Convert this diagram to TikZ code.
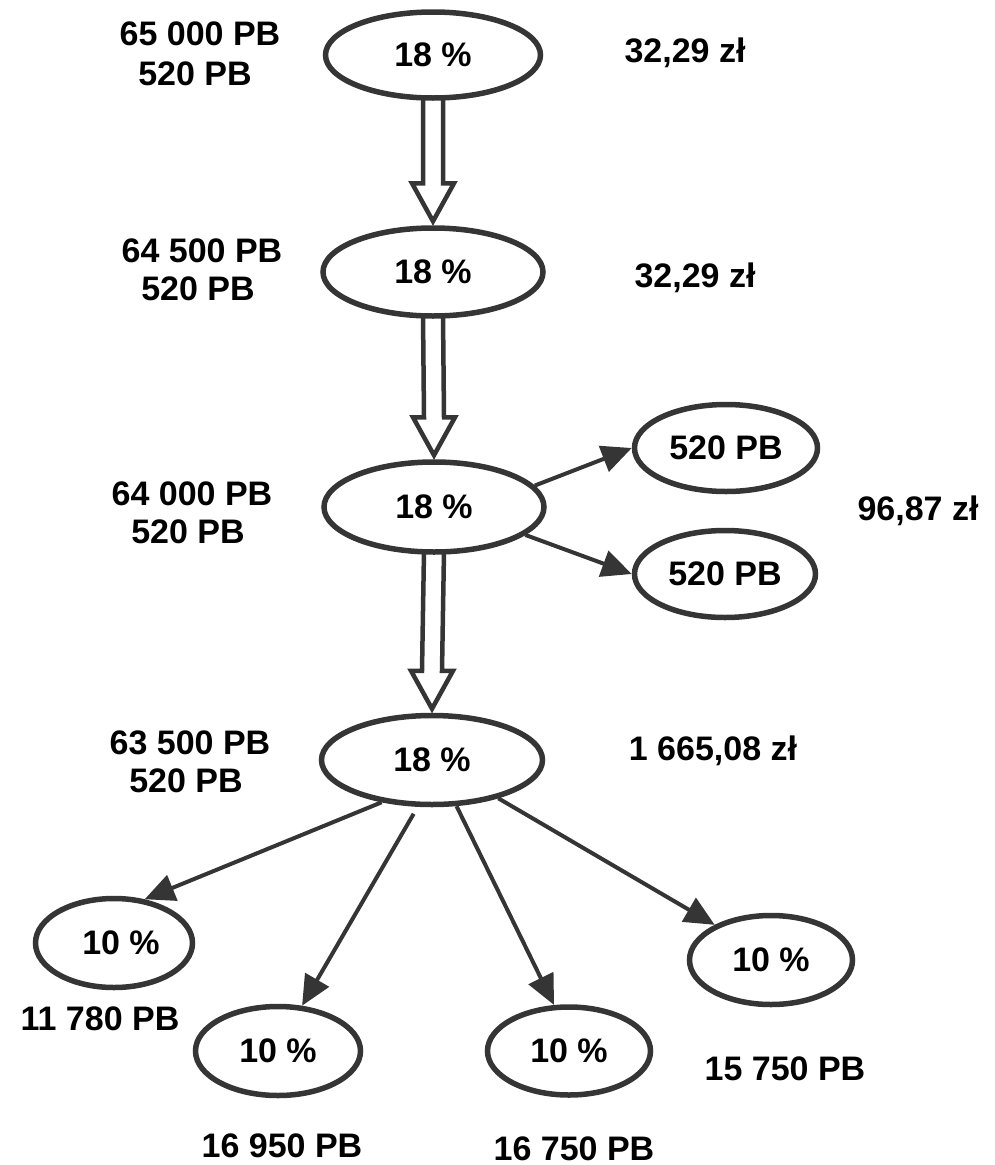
\documentclass[tikz,border=0pt]{standalone}
\usepackage{fontspec}
\setmainfont{Liberation Sans}
\usetikzlibrary{arrows.meta,calc,shapes.geometric}
\definecolor{ink}{HTML}{353535}
\begin{document}
\begin{tikzpicture}[x=1pt,y=-1pt,
  every node/.style={font=\fontsize{34}{40}\selectfont\bfseries, text=black},
  oval/.style={ellipse, draw=ink, line width=5.5pt, inner sep=0pt},
  lbl/.style={anchor=base, inner sep=0pt},
  arr/.style={draw=ink, line width=4pt, -{Triangle[length=30pt,width=27pt]}},
  hollow/.style={draw=ink, line width=4.5pt, line join=miter}]
\useasboundingbox (0,0) rectangle (994,1165);

% main chain
\node[oval, minimum width=215pt, minimum height=86pt] (e1) at (433,55) {18 \%};
\node[oval, minimum width=220pt, minimum height=88pt] (e2) at (433,272) {18 \%};
\node[oval, minimum width=220pt, minimum height=90pt] (e3) at (434,507) {18 \%};
\node[oval, minimum width=221pt, minimum height=89pt] (e4) at (432,760) {18 \%};

% right side
\node[oval, minimum width=183pt, minimum height=87pt] (r1) at (726,448) {520 PB};
\node[oval, minimum width=181pt, minimum height=87pt] (r2) at (725,574) {520 PB};

% bottom
\node[oval, minimum width=157pt, minimum height=89pt] (b1) at (114,943) {\hspace*{14pt}10 \%};
\node[oval, minimum width=165pt, minimum height=89pt] (b2) at (278,1051) {10 \%};
\node[oval, minimum width=163pt, minimum height=88pt] (b3) at (569,1051) {10 \%};
\node[oval, minimum width=163pt, minimum height=89pt] (b4) at (771,960) {10 \%};

% hollow arrows
\draw[hollow] ($(e1.south)+(-10,-4)$) -- ($(e2.north)+(-10,-42)$) -- ($(e2.north)+(-21,-42)$) -- ($(e2.north)+(0,-4)$) -- ($(e2.north)+(21,-42)$) -- ($(e2.north)+(10,-42)$) -- ($(e1.south)+(10,-4)$);
\draw[hollow] ($(e2.south)+(-10,-4)$) -- ($(e3.north)+(-10,-42)$) -- ($(e3.north)+(-21,-42)$) -- ($(e3.north)+(0,-4)$) -- ($(e3.north)+(21,-42)$) -- ($(e3.north)+(10,-42)$) -- ($(e2.south)+(10,-4)$);
\draw[hollow] ($(e3.south)+(-10,-4)$) -- ($(e4.north)+(-10,-42)$) -- ($(e4.north)+(-21,-42)$) -- ($(e4.north)+(0,-4)$) -- ($(e4.north)+(21,-42)$) -- ($(e4.north)+(10,-42)$) -- ($(e3.south)+(10,-4)$);

% arrows
\draw[arr] (e3.12) -- (r1.west);
\draw[arr] (e3.343) -- (r2.west);
\draw[arr] (e4.220) -- (b1.55);
\draw[arr, shorten <=8pt] (e4.253) -- (b2.62);
\draw[arr] (e4.298) -- (b3.108);
\draw[arr] (e4.330) -- (b4.148);

% labels
\node[lbl] (l1a) at (200,45) {65 000 PB};
\node[lbl] (l1b) at (195,85) {520 PB};
\node[lbl] (v1) at (685,62) {32,29 zł};

\node[lbl] (l2a) at (202,262) {64 500 PB};
\node[lbl] (l2b) at (198,300) {520 PB};
\node[lbl] (v2) at (695,287) {32,29 zł};

\node[lbl] (l3a) at (192,505) {64 000 PB};
\node[lbl] (l3b) at (188,543) {520 PB};
\node[lbl] (v3) at (918,520) {96,87 zł};

\node[lbl] (l4a) at (190,754) {63 500 PB};
\node[lbl] (l4b) at (186,792) {520 PB};
\node[lbl] (v4) at (713,760) {1 665,08 zł};

\node[lbl] (p1) at (100,1030) {11 780 PB};
\node[lbl] (p2) at (282,1157) {16 950 PB};
\node[lbl] (p3) at (574,1160) {16 750 PB};
\node[lbl] (p4) at (785,1080) {15 750 PB};
\end{tikzpicture}
\end{document}
